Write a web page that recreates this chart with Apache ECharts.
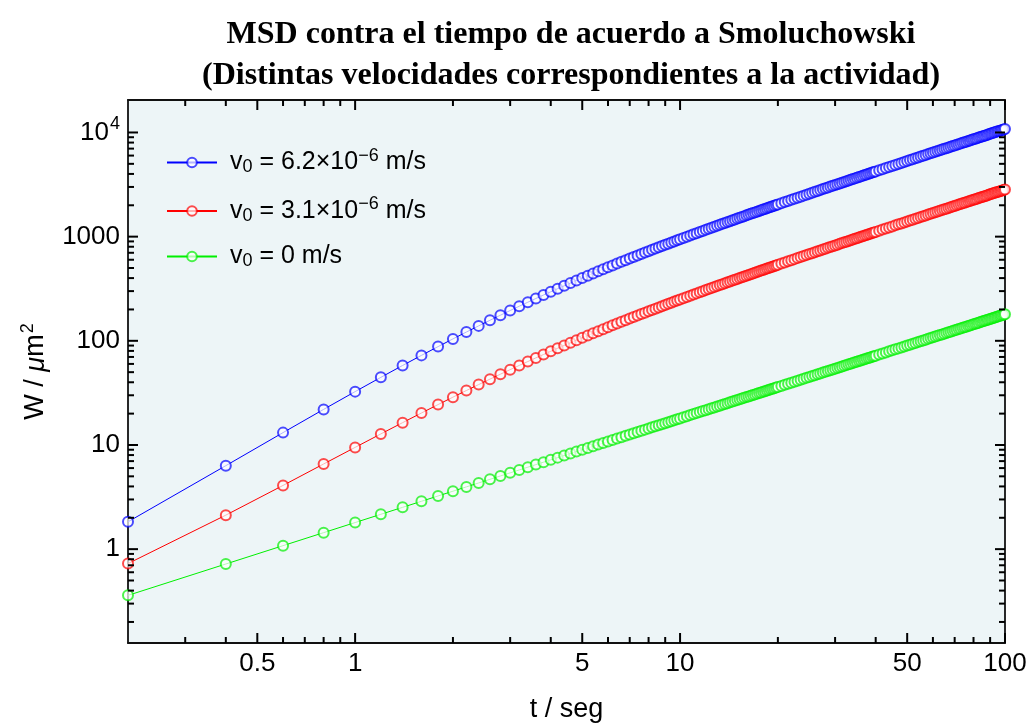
<!DOCTYPE html>
<html>
<head>
<meta charset="utf-8">
<script src="https://cdn.jsdelivr.net/npm/echarts@6/dist/echarts.min.js"></script>
<style>
  html, body { margin: 0; padding: 0; background: #fff; }
  #main { width: 1034px; height: 723px; }
</style>
</head>
<body>
<div id="main"></div>
<script>
// tiempo (s)
var tValues = [
  0.2, 0.4, 0.6, 0.8, 1, 1.2, 1.4, 1.6, 1.8, 2,
  2.2, 2.4, 2.6, 2.8, 3, 3.2, 3.4, 3.6, 3.8, 4,
  4.2, 4.4, 4.6, 4.8, 5, 5.2, 5.4, 5.6, 5.8, 6,
  6.2, 6.4, 6.6, 6.8, 7, 7.2, 7.4, 7.6, 7.8, 8,
  8.2, 8.4, 8.6, 8.8, 9, 9.2, 9.4, 9.6, 9.8, 10,
  10.25, 10.5, 10.75, 11, 11.25, 11.5, 11.75, 12, 12.25, 12.5,
  12.75, 13, 13.25, 13.5, 13.75, 14, 14.25, 14.5, 14.75, 15,
  15.25, 15.5, 15.75, 16, 16.25, 16.5, 16.75, 17, 17.25, 17.5,
  17.75, 18, 18.25, 18.5, 18.75, 19, 19.25, 19.5, 19.75, 20,
  20.5, 21, 21.5, 22, 22.5, 23, 23.5, 24, 24.5, 25,
  25.5, 26, 26.5, 27, 27.5, 28, 28.5, 29, 29.5, 30,
  30.5, 31, 31.5, 32, 32.5, 33, 33.5, 34, 34.5, 35,
  35.5, 36, 36.5, 37, 37.5, 38, 38.5, 39, 39.5, 40,
  41, 42, 43, 44, 45, 46, 47, 48, 49, 50,
  51, 52, 53, 54, 55, 56, 57, 58, 59, 60,
  61, 62, 63, 64, 65, 66, 67, 68, 69, 70,
  71, 72, 73, 74, 75, 76, 77, 78, 79, 80,
  81, 82, 83, 84, 85, 86, 87, 88, 89, 90,
  91, 92, 93, 94, 95, 96, 97, 98, 99, 100
];
// v0 = 6.2e-6 m/s
var msdFast = [
  1.83, 6.33, 13.14, 21.96, 32.52, 44.58, 57.96, 72.47, 87.96, 104.3,
  121.4, 139.1, 157.4, 176.1, 195.3, 214.8, 234.7, 254.8, 275.2, 295.7,
  316.5, 337.4, 358.4, 379.5, 400.8, 422.1, 443.5, 464.9, 486.5, 508.0,
  529.6, 551.3, 573.0, 594.7, 616.4, 638.2, 659.9, 681.7, 703.5, 725.3,
  747.2, 769.0, 790.8, 812.7, 834.5, 856.4, 878.2, 900.1, 922.0, 943.8,
  971.1, 998.4, 1025.8, 1053.2, 1080.5, 1107.9, 1135.2, 1162.6, 1190.0, 1217.3,
  1244.7, 1272.1, 1299.4, 1326.8, 1354.1, 1381.5, 1408.9, 1436.2, 1463.6, 1491.0,
  1518.3, 1545.7, 1573.0, 1600.4, 1627.8, 1655.1, 1682.5, 1709.8, 1737.2, 1764.6,
  1791.9, 1819.3, 1846.7, 1874.0, 1901.4, 1928.7, 1956.1, 1983.5, 2010.8, 2038.2,
  2092.9, 2147.6, 2202.4, 2257.1, 2311.8, 2366.5, 2421.2, 2476.0, 2530.7, 2585.4,
  2640.1, 2694.8, 2749.5, 2804.3, 2859.0, 2913.7, 2968.4, 3023.1, 3077.9, 3132.6,
  3187.3, 3242.0, 3296.7, 3351.5, 3406.2, 3460.9, 3515.6, 3570.4, 3625.1, 3679.8,
  3734.5, 3789.2, 3844.0, 3898.7, 3953.4, 4008.1, 4062.8, 4117.6, 4172.3, 4227.0,
  4336.5, 4445.9, 4555.4, 4664.8, 4774.2, 4883.7, 4993.1, 5102.6, 5212.0, 5321.5,
  5430.9, 5540.3, 5649.8, 5759.2, 5868.7, 5978.1, 6087.5, 6197.0, 6306.4, 6415.9,
  6525.3, 6634.8, 6744.2, 6853.7, 6963.1, 7072.5, 7182.0, 7291.4, 7400.9, 7510.3,
  7619.8, 7729.2, 7838.6, 7948.1, 8057.5, 8167.0, 8276.4, 8385.9, 8495.3, 8604.7,
  8714.2, 8823.6, 8933.1, 9042.5, 9152.0, 9261.4, 9370.8, 9480.3, 9589.7, 9699.2,
  9808.6, 9918.1, 10027.5, 10136.9, 10246.4, 10355.8, 10465.3, 10574.7, 10684.2, 10793.6
];
// v0 = 3.1e-6 m/s
var msdSlow = [
  0.727, 2.12, 4.09, 6.57, 9.48, 12.77, 16.38, 20.28, 24.42, 28.78,
  33.32, 38.02, 42.86, 47.81, 52.88, 58.03, 63.26, 68.56, 73.92, 79.33,
  84.79, 90.28, 95.80, 101.4, 106.9, 112.5, 118.2, 123.8, 129.4, 135.1,
  140.8, 146.5, 152.2, 157.9, 163.6, 169.3, 175.0, 180.7, 186.4, 192.1,
  197.9, 203.6, 209.3, 215.0, 220.8, 226.5, 232.3, 238.0, 243.7, 249.5,
  256.6, 263.8, 271.0, 278.2, 285.3, 292.5, 299.7, 306.9, 314.0, 321.2,
  328.4, 335.6, 342.8, 349.9, 357.1, 364.3, 371.5, 378.6, 385.8, 393.0,
  400.2, 407.3, 414.5, 421.7, 428.9, 436.1, 443.2, 450.4, 457.6, 464.8,
  471.9, 479.1, 486.3, 493.5, 500.7, 507.8, 515.0, 522.2, 529.4, 536.5,
  550.9, 565.3, 579.6, 594.0, 608.3, 622.7, 637.0, 651.4, 665.7, 680.1,
  694.4, 708.8, 723.2, 737.5, 751.9, 766.2, 780.6, 794.9, 809.3, 823.7,
  838.0, 852.4, 866.7, 881.1, 895.4, 909.8, 924.1, 938.5, 952.9, 967.2,
  981.6, 995.9, 1010.3, 1024.6, 1039.0, 1053.3, 1067.7, 1082.1, 1096.4, 1110.8,
  1139.5, 1168.2, 1196.9, 1225.6, 1254.3, 1283.0, 1311.8, 1340.5, 1369.2, 1397.9,
  1426.6, 1455.3, 1484.0, 1512.7, 1541.4, 1570.1, 1598.9, 1627.6, 1656.3, 1685.0,
  1713.7, 1742.4, 1771.1, 1799.8, 1828.5, 1857.3, 1886.0, 1914.7, 1943.4, 1972.1,
  2000.8, 2029.5, 2058.2, 2086.9, 2115.7, 2144.4, 2173.1, 2201.8, 2230.5, 2259.2,
  2287.9, 2316.6, 2345.3, 2374.0, 2402.8, 2431.5, 2460.2, 2488.9, 2517.6, 2546.3,
  2575.0, 2603.7, 2632.5, 2661.2, 2689.9, 2718.6, 2747.3, 2776.0, 2804.7, 2833.4
];
// v0 = 0 (solo difusion)
var msdPassive = [
  0.36, 0.72, 1.08, 1.44, 1.8, 2.16, 2.52, 2.88, 3.24, 3.6,
  3.96, 4.32, 4.68, 5.04, 5.4, 5.76, 6.12, 6.48, 6.84, 7.2,
  7.56, 7.92, 8.28, 8.64, 9, 9.36, 9.72, 10.08, 10.44, 10.8,
  11.16, 11.52, 11.88, 12.24, 12.6, 12.96, 13.32, 13.68, 14.04, 14.4,
  14.76, 15.12, 15.48, 15.84, 16.2, 16.56, 16.92, 17.28, 17.64, 18,
  18.45, 18.9, 19.35, 19.8, 20.25, 20.7, 21.15, 21.6, 22.05, 22.5,
  22.95, 23.4, 23.85, 24.3, 24.75, 25.2, 25.65, 26.1, 26.55, 27,
  27.45, 27.9, 28.35, 28.8, 29.25, 29.7, 30.15, 30.6, 31.05, 31.5,
  31.95, 32.4, 32.85, 33.3, 33.75, 34.2, 34.65, 35.1, 35.55, 36,
  36.9, 37.8, 38.7, 39.6, 40.5, 41.4, 42.3, 43.2, 44.1, 45,
  45.9, 46.8, 47.7, 48.6, 49.5, 50.4, 51.3, 52.2, 53.1, 54,
  54.9, 55.8, 56.7, 57.6, 58.5, 59.4, 60.3, 61.2, 62.1, 63,
  63.9, 64.8, 65.7, 66.6, 67.5, 68.4, 69.3, 70.2, 71.1, 72,
  73.8, 75.6, 77.4, 79.2, 81, 82.8, 84.6, 86.4, 88.2, 90,
  91.8, 93.6, 95.4, 97.2, 99, 100.8, 102.6, 104.4, 106.2, 108,
  109.8, 111.6, 113.4, 115.2, 117, 118.8, 120.6, 122.4, 124.2, 126,
  127.8, 129.6, 131.4, 133.2, 135, 136.8, 138.6, 140.4, 142.2, 144,
  145.8, 147.6, 149.4, 151.2, 153, 154.8, 156.6, 158.4, 160.2, 162,
  163.8, 165.6, 167.4, 169.2, 171, 172.8, 174.6, 176.4, 178.2, 180
];

var seriesNames = ['v0 = 6.2e-6 m/s', 'v0 = 3.1e-6 m/s', 'v0 = 0 m/s'];
var legendLabels = [
  'v{sub|0} = 6.2×10{sup|−6} m/s',
  'v{sub|0} = 3.1×10{sup|−6} m/s',
  'v{sub|0} = 0 m/s'
];
var seriesColors = ['#0000ff', '#ff0000', '#00f000'];

var xMajorTicks = [0.5, 1, 5, 10, 50, 100];
var xMinorTicks = [0.3, 0.4, 0.6, 0.7, 0.8, 0.9, 2, 3, 4, 6, 7, 8, 9, 20, 30, 40, 60, 70, 80, 90];
var yMajorTicks = [1, 10, 100, 1000, 10000];
var yMinorTicks = [0.2, 0.3, 0.4, 0.5, 0.6, 0.7, 0.8, 0.9,
  2, 3, 4, 5, 6, 7, 8, 9, 20, 30, 40, 50, 60, 70, 80, 90,
  200, 300, 400, 500, 600, 700, 800, 900, 2000, 3000, 4000, 5000, 6000, 7000, 8000, 9000];

var X_MIN = 0.2, X_MAX = 100, Y_MIN = 0.1256, Y_MAX = 20500;
var FONT = '"Liberation Sans", Arial, sans-serif';
var TICK_COLOR = '#000';

function pairs(ys) {
  return tValues.map(function (t, i) { return [t, ys[i]]; });
}

var frameLine = { show: true, onZero: false, lineStyle: { color: '#111', width: 1.8 } };

function makeX(pos, withLabels) {
  return {
    type: 'log', logBase: 10, min: X_MIN, max: X_MAX, position: pos,
    axisLine: frameLine,
    splitLine: { show: false },
    axisTick: { show: false },
    axisLabel: withLabels ? {
      show: true, customValues: xMajorTicks, margin: 8,
      fontFamily: FONT, fontSize: 26, color: '#000',
      formatter: function (v) { return String(v); }
    } : { show: false },
    name: withLabels ? 't / seg' : '',
    nameLocation: 'middle', nameGap: 53,
    nameTextStyle: { fontFamily: FONT, fontSize: 27, color: '#000' }
  };
}

function yLabel(v) {
  if (v >= 10000) return '{b|10}{sup|4}';
  return '{b|' + v + '}';
}

function makeY(pos, withLabels) {
  return {
    type: 'log', logBase: 10, min: Y_MIN, max: Y_MAX, position: pos,
    axisLine: frameLine,
    splitLine: { show: false },
    axisTick: { show: false },
    axisLabel: withLabels ? {
      show: true, customValues: yMajorTicks, margin: 8,
      formatter: yLabel,
      rich: {
        b: { fontFamily: FONT, fontSize: 26, color: '#000' },
        sup: { fontFamily: FONT, fontSize: 18, color: '#000', padding: [0, 0, 16, 1] }
      }
    } : { show: false },
    name: withLabels ? 'W / {i|μ}m{sup|2}' : '',
    nameLocation: 'middle', nameGap: 75, nameRotate: 90,
    nameTextStyle: {
      fontFamily: FONT, fontSize: 27, color: '#000',
      rich: {
        i: { fontFamily: FONT, fontSize: 27, fontStyle: 'italic', color: '#000' },
        sup: { fontFamily: FONT, fontSize: 18, color: '#000', padding: [0, 0, 16, 1] }
      }
    }
  };
}

// fondo del area de trazado, tomado de los extremos de los ejes
var plotBackground = {
  type: 'custom', coordinateSystem: 'cartesian2d',
  silent: true, clip: false, z: -10,
  data: [[X_MIN, Y_MIN]],
  renderItem: function (params, api) {
    var p0 = api.coord([X_MIN, Y_MAX]);
    var p1 = api.coord([X_MAX, Y_MIN]);
    return {
      type: 'rect',
      shape: { x: p0[0], y: p0[1], width: p1[0] - p0[0], height: p1[1] - p0[1] },
      style: { fill: '#edf5f7' }
    };
  }
};

// marcas de los ejes (dentro del marco, en los cuatro lados), como rectangulos finos
function tickSeries(values, dim, len) {
  var w = 2;
  return {
    type: 'custom',
    coordinateSystem: 'cartesian2d',
    silent: true, clip: false, z: 50,
    data: values.map(function (v) { return dim === 'x' ? [v, Y_MIN] : [X_MIN, v]; }),
    renderItem: function (params, api) {
      var st = { fill: TICK_COLOR };
      var a, b;
      if (dim === 'x') {
        var xv = api.value(0);
        a = api.coord([xv, Y_MIN]);
        b = api.coord([xv, Y_MAX]);
        return { type: 'group', children: [
          { type: 'rect', shape: { x: a[0] - w / 2, y: a[1] - len, width: w, height: len }, style: st },
          { type: 'rect', shape: { x: b[0] - w / 2, y: b[1], width: w, height: len }, style: st }
        ] };
      }
      var yv = api.value(1);
      a = api.coord([X_MIN, yv]);
      b = api.coord([X_MAX, yv]);
      return { type: 'group', children: [
        { type: 'rect', shape: { x: a[0], y: a[1] - w / 2, width: len, height: w }, style: st },
        { type: 'rect', shape: { x: b[0] - len, y: b[1] - w / 2, width: len, height: w }, style: st }
      ] };
    }
  };
}

var chart = echarts.init(document.getElementById('main'), null, { renderer: 'canvas' });

var series = [plotBackground];
[msdFast, msdSlow, msdPassive].forEach(function (ys, i) {
  series.push({
    name: seriesNames[i],
    type: 'line',
    data: pairs(ys),
    symbol: 'emptyCircle',
    symbolSize: 10,
    showSymbol: true,
    showAllSymbol: true,
    smooth: false,
    lineStyle: { color: seriesColors[i], width: 1 },
    itemStyle: { color: seriesColors[i], borderColor: seriesColors[i], borderWidth: 1, opacity: 0.7 },
    emphasis: { disabled: true },
    z: 3 - i
  });
});
series.push(tickSeries(xMajorTicks, 'x', 10));
series.push(tickSeries(xMinorTicks, 'x', 6));
series.push(tickSeries(yMajorTicks, 'y', 10));
series.push(tickSeries(yMinorTicks, 'y', 6));

chart.setOption({
  animation: false,
  backgroundColor: '#ffffff',
  title: {
    text: 'MSD contra el tiempo de acuerdo a Smoluchowski\n(Distintas velocidades correspondientes a la actividad)',
    left: 566, top: 9, textAlign: 'center',
    textStyle: { fontFamily: '"Liberation Serif", "Times New Roman", serif', fontWeight: 'bold',
      fontSize: 32, lineHeight: 41, color: '#000' }
  },
  legend: {
    orient: 'vertical', left: 166, top: 147, padding: 0,
    itemWidth: 50, itemHeight: 12, itemGap: 19,
    data: seriesNames,
    formatter: function (name) { return legendLabels[seriesNames.indexOf(name)]; },
    textStyle: {
      fontFamily: FONT, fontSize: 25, color: '#000', padding: [0, 0, 0, 8],
      rich: {
        sub: { fontFamily: FONT, fontSize: 18, color: '#000', padding: [10, 0, 0, 0] },
        sup: { fontFamily: FONT, fontSize: 18, color: '#000', padding: [0, 0, 13, 0] }
      }
    }
  },
  grid: {
    left: 128, right: 29, top: 100, bottom: 80,
    outerBoundsMode: 'none', show: false
  },
  xAxis: [makeX('bottom', true), makeX('top', false)],
  yAxis: [makeY('left', true), makeY('right', false)],
  series: series
});

window.addEventListener('resize', function () { chart.resize(); });
</script>
</body>
</html>
